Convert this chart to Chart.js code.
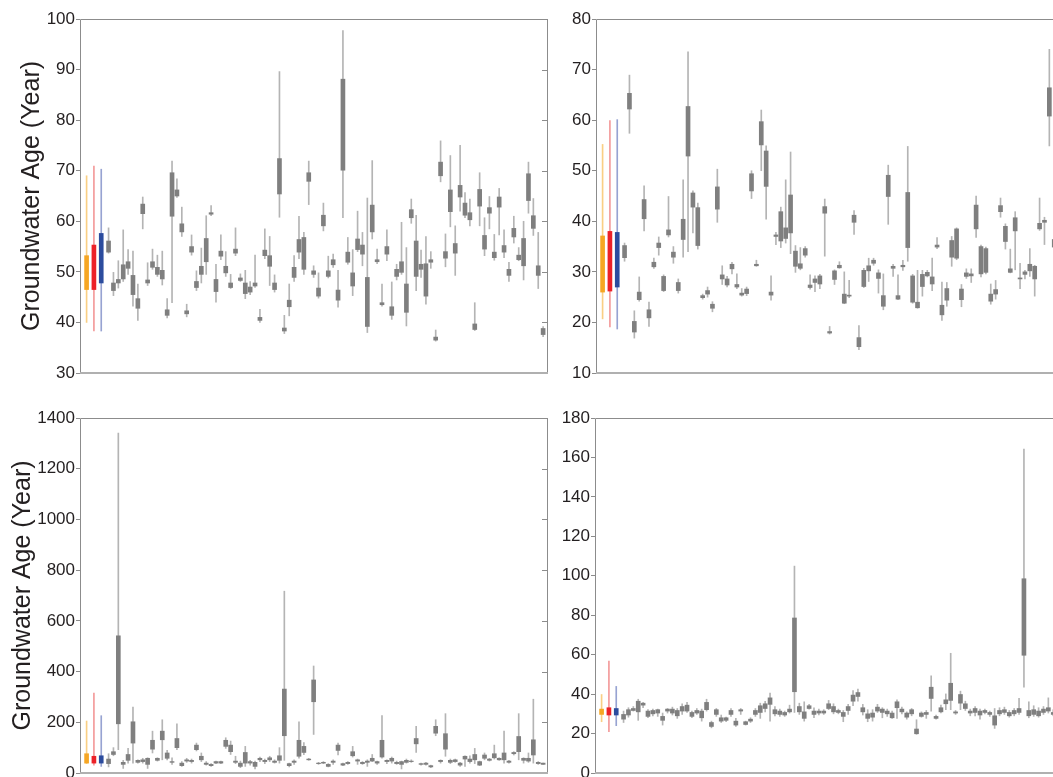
<!DOCTYPE html>
<html>
<head>
<meta charset="utf-8">
<script src="https://cdn.jsdelivr.net/npm/chart.js@4/dist/chart.umd.min.js"></script>
<style>
    body { margin: 0; background: #fff; overflow: hidden; }
    #wrap { position: relative; width: 1053px; height: 777px; overflow: hidden; }
    canvas { position: absolute; }
</style>
</head>
<body>
<div id="wrap">
    <canvas id="ageA" width="560" height="400" style="left:0;top:0"></canvas>
    <canvas id="ageB" width="520" height="400" style="left:556px;top:0"></canvas>
    <canvas id="ageC" width="560" height="410" style="left:0;top:390px"></canvas>
    <canvas id="ageD" width="520" height="410" style="left:556px;top:390px"></canvas>
</div>
<script>
// Tick values for each panel
const ticksA = [30, 40, 50, 60, 70, 80, 90, 100];
const ticksB = [10, 20, 30, 40, 50, 60, 70, 80];
const ticksC = [0, 200, 400, 600, 800, 1000, 1200, 1400];
const ticksD = [0, 20, 40, 60, 80, 100, 120, 140, 160, 180];

// Three reference boxes (orange, red, blue) in each panel: low, q1, q3, high
const refLowA = [40.0, 38.3, 38.3];
const refQ1A = [46.5, 46.5, 47.8];
const refQ3A = [53.2, 55.3, 57.6];
const refHighA = [69.0, 70.9, 70.3];

const refLowB = [20.7, 19.1, 18.7];
const refQ1B = [26.0, 26.2, 27.0];
const refQ3B = [37.1, 38.0, 37.8];
const refHighB = [55.2, 59.9, 60.1];

const refLowC = [37, 31, 26];
const refQ1C = [39, 39, 39];
const refQ3C = [76, 66, 68];
const refHighC = [205, 315, 226];

const refLowD = [26.0, 20.9, 24.0];
const refQ1D = [29.7, 29.4, 29.4];
const refQ3D = [32.4, 33.1, 32.7];
const refHighD = [39.8, 56.7, 43.9];

// Panel A (top left)
const highA = [
    58.7, 49.9, 52.2, 58.3, 54.4, 54.1, 47.6, 64.8, 51.8, 54.5,
    53.3, 54.1, 44.7, 71.9, 68.4, 62.8, 43.6, 57.3, 50.2, 54.7,
    61.1, 63.1, 51.5, 57.3, 54.0, 49.5, 58.7, 49.6, 50.3, 48.1,
    53.3, 42.6, 58.5, 57.0, 49.4, 89.6, 41.4, 47.6, 53.2, 61.0,
    57.8, 71.9, 51.2, 49.8, 63.6, 53.1, 53.5, 50.3, 97.7, 56.8,
    54.4, 62.0, 57.8, 64.6, 72.0, 54.5, 47.6, 58.3, 48.0, 51.5,
    59.8, 54.8, 64.4, 61.2, 54.3, 57.0, 54.0, 38.5, 75.9, 57.5,
    73.0, 59.1, 75.0, 65.7, 64.4, 43.9, 69.6, 60.7, 64.9, 57.4,
    66.5, 58.3, 51.9, 61.0, 54.8, 60.0, 71.7, 64.5, 57.8, 39.2
];
const q3A = [
    56.1, 47.8, 48.5, 51.4, 52.0, 49.3, 44.7, 63.4, 48.4, 52.0,
    50.9, 50.3, 42.5, 69.6, 66.2, 59.5, 42.3, 55.0, 48.1, 51.1,
    56.6, 61.7, 48.5, 54.1, 51.1, 47.8, 54.5, 48.8, 47.8, 47.0,
    47.8, 41.0, 54.3, 53.2, 47.8, 72.4, 38.9, 44.4, 50.9, 56.4,
    56.8, 69.6, 50.2, 46.8, 61.2, 50.2, 52.4, 46.4, 88.1, 53.9,
    49.8, 56.5, 55.3, 48.9, 63.2, 52.4, 43.9, 55.0, 43.1, 50.5,
    52.0, 47.6, 62.3, 56.1, 51.5, 51.6, 52.4, 37.1, 71.7, 54.0,
    66.2, 55.6, 67.1, 63.6, 61.7, 39.7, 66.3, 57.2, 62.7, 53.9,
    64.8, 55.2, 50.5, 58.6, 53.3, 56.6, 69.4, 61.1, 51.2, 38.8
];
const q1A = [
    53.9, 46.3, 47.8, 48.6, 50.7, 45.5, 42.8, 61.5, 47.8, 50.9,
    49.5, 48.6, 41.4, 61.0, 65.0, 57.9, 41.7, 53.9, 46.9, 49.5,
    52.0, 61.4, 46.1, 53.1, 49.8, 46.9, 53.7, 48.3, 45.7, 46.0,
    47.2, 40.4, 53.2, 51.1, 46.5, 65.4, 38.3, 43.1, 48.9, 53.9,
    50.5, 67.9, 49.5, 45.2, 59.1, 49.1, 51.4, 44.4, 70.1, 51.9,
    47.2, 54.4, 53.5, 39.2, 57.9, 52.0, 43.5, 53.5, 41.4, 49.1,
    49.9, 42.0, 60.7, 49.1, 50.5, 45.2, 51.9, 36.5, 69.0, 52.7,
    61.9, 53.7, 64.8, 61.2, 60.3, 38.6, 63.0, 54.5, 61.6, 52.8,
    62.8, 53.9, 49.3, 56.9, 52.4, 51.2, 64.1, 58.6, 49.3, 37.6
];
const lowA = [
    53.7, 45.3, 46.8, 48.1, 49.5, 43.2, 40.4, 58.5, 47.3, 50.5,
    49.1, 47.4, 40.9, 43.9, 64.7, 57.0, 41.1, 53.3, 46.3, 47.8,
    49.5, 61.1, 44.0, 52.4, 49.1, 46.7, 53.2, 48.1, 44.7, 45.5,
    46.9, 40.0, 52.6, 47.3, 46.0, 60.8, 37.8, 41.3, 48.1, 52.6,
    49.5, 63.3, 48.9, 44.8, 58.1, 48.8, 50.9, 43.0, 60.7, 51.5,
    45.3, 54.0, 51.2, 38.0, 56.5, 51.6, 43.2, 52.2, 40.6, 48.4,
    49.5, 39.3, 59.6, 46.3, 48.9, 43.6, 50.7, 36.3, 67.8, 51.0,
    58.9, 49.3, 62.0, 60.7, 59.1, 38.4, 59.1, 53.2, 58.5, 52.3,
    57.3, 52.8, 48.1, 55.7, 52.2, 48.4, 61.6, 57.2, 46.7, 37.2
];

// Panel B (top right)
const highB = [
    35.7, 68.9, 22.3, 29.0, 47.0, 24.0, 32.7, 36.9, 29.4, 44.9,
    35.0, 28.6, 48.2, 73.5, 46.0, 43.6, 25.6, 27.0, 24.1, 50.3,
    31.2, 29.1, 31.9, 29.6, 26.7, 27.0, 50.0, 32.3, 62.0, 54.9,
    29.2, 37.8, 42.8, 48.2, 53.7, 35.2, 34.8, 35.0, 29.4, 29.2,
    29.5, 44.4, 19.2, 30.4, 32.0, 30.0, 28.3, 42.1, 19.4, 30.7,
    32.7, 32.7, 30.4, 29.6, 51.1, 31.5, 29.4, 32.3, 54.8, 29.5,
    30.3, 30.3, 30.3, 32.7, 36.8, 28.0, 27.9, 37.0, 38.7, 27.5,
    30.6, 30.6, 45.0, 35.3, 34.9, 27.6, 28.3, 44.6, 39.5, 34.5,
    41.9, 31.7, 30.3, 34.6, 31.3, 44.6, 40.8, 74.0, 37.6
];
const q3B = [
    35.2, 65.3, 20.2, 26.0, 44.3, 22.5, 31.9, 35.7, 29.1, 38.3,
    33.9, 27.9, 40.4, 62.7, 45.6, 42.7, 25.3, 26.3, 23.6, 46.8,
    29.4, 28.6, 31.5, 27.5, 25.8, 26.6, 49.4, 31.5, 59.7, 53.9,
    26.0, 37.3, 41.9, 38.7, 45.2, 34.1, 31.6, 34.6, 27.4, 28.6,
    29.2, 42.9, 18.2, 30.2, 31.3, 25.6, 25.4, 41.2, 17.0, 30.3,
    31.2, 32.3, 29.8, 25.3, 49.1, 31.1, 25.3, 31.3, 45.7, 29.2,
    24.0, 29.5, 29.9, 29.0, 35.3, 23.4, 26.7, 36.2, 38.5, 26.6,
    29.8, 29.6, 43.2, 35.0, 34.6, 25.6, 26.5, 43.1, 39.0, 30.6,
    40.7, 28.8, 30.0, 31.5, 31.1, 39.6, 40.2, 66.4, 36.4
];
const q1B = [
    32.8, 62.2, 18.1, 24.5, 40.5, 20.9, 31.0, 34.8, 26.3, 37.3,
    32.9, 26.3, 36.4, 52.9, 42.8, 35.2, 24.9, 25.6, 22.8, 42.4,
    28.6, 27.4, 30.6, 27.0, 25.4, 25.7, 46.0, 31.2, 55.1, 46.9,
    25.4, 37.0, 36.1, 36.6, 37.7, 31.1, 30.7, 33.3, 26.9, 27.9,
    27.6, 41.6, 17.9, 28.5, 30.8, 23.8, 25.2, 39.8, 15.2, 27.1,
    30.2, 31.7, 28.7, 23.2, 44.9, 30.7, 24.6, 31.0, 34.8, 24.0,
    22.9, 27.1, 29.2, 27.6, 34.9, 21.5, 24.4, 32.9, 32.7, 24.5,
    29.1, 29.2, 38.5, 29.6, 29.9, 24.2, 25.6, 41.9, 36.0, 29.9,
    38.1, 28.6, 29.5, 30.2, 28.6, 38.5, 39.8, 60.8, 34.9
];
const lowB = [
    32.1, 57.4, 16.9, 24.2, 38.1, 19.2, 30.7, 33.3, 26.1, 36.9,
    31.7, 25.8, 32.9, 34.0, 37.7, 34.5, 24.6, 25.0, 22.1, 39.8,
    27.5, 27.0, 29.6, 26.7, 25.2, 25.3, 44.5, 31.1, 50.0, 40.4,
    24.4, 35.4, 34.8, 35.7, 33.6, 29.9, 30.4, 32.9, 26.6, 26.1,
    26.7, 33.1, 17.7, 27.5, 30.7, 23.7, 24.9, 37.4, 14.6, 26.9,
    28.1, 31.3, 25.8, 22.5, 39.4, 29.1, 24.5, 30.3, 32.1, 23.8,
    22.8, 25.2, 29.0, 26.3, 34.6, 20.4, 23.2, 31.1, 32.4, 23.1,
    28.7, 27.9, 36.8, 29.0, 29.6, 23.6, 24.6, 40.8, 34.5, 29.8,
    30.4, 26.7, 28.6, 29.1, 25.2, 38.2, 35.4, 54.9, 34.0
];

// Panel C (bottom left)
const highC = [
    76, 100, 1341, 50, 97, 260, 52, 58, 60, 165,
    60, 210, 89, 60, 194, 45, 58, 55, 118, 79,
    45, 37, 47, 47, 139, 126, 66, 47, 105, 50,
    47, 63, 55, 66, 52, 100, 717, 39, 52, 202,
    120, 58, 422, 42, 45, 37, 52, 118, 39, 45,
    105, 55, 45, 52, 73, 47, 226, 52, 63, 47,
    47, 55, 52, 184, 39, 42, 31, 210, 52, 234,
    55, 55, 42, 68, 68, 97, 47, 79, 58, 110,
    60, 165, 50, 84, 234, 60, 79, 291, 45, 39
];
const q3C = [
    55, 84, 541, 42, 73, 202, 50, 52, 58, 129,
    58, 165, 79, 45, 136, 39, 52, 50, 110, 66,
    39, 34, 45, 45, 129, 110, 47, 39, 81, 45,
    42, 58, 50, 60, 47, 68, 331, 37, 47, 129,
    105, 55, 367, 39, 42, 34, 47, 110, 37, 42,
    84, 52, 42, 47, 58, 45, 129, 50, 58, 42,
    45, 50, 47, 136, 37, 39, 29, 184, 50, 155,
    50, 52, 39, 66, 55, 73, 45, 71, 55, 76,
    58, 79, 47, 81, 144, 58, 58, 131, 42, 39
];
const q1C = [
    37, 73, 194, 34, 50, 118, 42, 45, 34, 94,
    50, 131, 58, 42, 100, 29, 47, 45, 92, 52,
    34, 29, 39, 39, 105, 84, 42, 26, 39, 39,
    26, 52, 45, 52, 42, 50, 147, 29, 42, 66,
    81, 52, 281, 37, 39, 26, 42, 89, 31, 37,
    68, 47, 37, 42, 47, 39, 63, 45, 47, 37,
    34, 42, 45, 115, 34, 34, 24, 157, 45, 94,
    42, 45, 31, 55, 45, 52, 31, 58, 50, 60,
    52, 52, 42, 76, 84, 50, 47, 71, 37, 34
];
const lowC = [
    24, 68, 92, 18, 39, 39, 39, 39, 18, 79,
    47, 52, 52, 34, 92, 26, 42, 39, 87, 45,
    31, 26, 37, 37, 97, 73, 37, 21, 26, 31,
    16, 45, 37, 45, 39, 39, 50, 24, 34, 58,
    72, 50, 152, 34, 37, 24, 34, 71, 29, 34,
    63, 34, 34, 26, 45, 34, 58, 37, 39, 34,
    16, 39, 42, 81, 31, 31, 21, 147, 39, 66,
    37, 42, 26, 26, 39, 37, 29, 52, 47, 55,
    50, 39, 39, 71, 52, 39, 42, 39, 34, 34
];

// Panel D (bottom right)
const highD = [
    31.4, 33.1, 33.7, 37.4, 35.8, 32.1, 32.4, 32.4, 30.4, 32.7,
    33.4, 32.7, 35.1, 35.8, 31.4, 32.7, 32.4, 37.4, 26.3, 32.7,
    29.4, 28.3, 32.7, 27.7, 32.7, 26.3, 28.0, 32.7, 35.4, 36.4,
    40.5, 33.7, 32.4, 31.4, 34.4, 104.9, 35.4, 36.1, 34.8, 33.1,
    32.4, 32.1, 36.8, 35.1, 32.4, 31.7, 34.8, 41.8, 42.5, 34.8,
    32.1, 32.1, 34.8, 33.1, 32.4, 31.4, 37.1, 33.4, 31.0, 32.7,
    27.0, 31.0, 31.7, 49.3, 29.4, 34.4, 40.1, 60.7, 31.7, 41.5,
    36.4, 32.4, 33.7, 32.4, 32.4, 31.4, 32.7, 33.1, 33.4, 31.7,
    32.7, 37.8, 164.3, 36.1, 34.1, 33.1, 33.7, 38.1, 32.1
];
const q3D = [
    29.7, 32.1, 32.7, 36.4, 35.4, 31.4, 31.7, 32.1, 28.7, 32.4,
    32.4, 31.7, 33.7, 34.4, 30.7, 31.7, 31.4, 35.8, 25.6, 32.1,
    28.0, 28.0, 31.7, 26.3, 32.1, 26.0, 27.3, 31.7, 34.1, 35.1,
    38.1, 32.1, 31.4, 30.7, 32.4, 78.6, 33.7, 31.0, 34.1, 31.4,
    31.4, 31.4, 35.1, 33.7, 31.7, 30.7, 33.7, 39.5, 40.8, 33.1,
    30.0, 30.4, 33.4, 32.4, 31.4, 30.4, 36.1, 32.4, 30.4, 32.1,
    22.3, 30.4, 30.7, 43.5, 28.7, 33.1, 37.1, 45.5, 31.0, 39.8,
    35.1, 31.4, 32.7, 31.4, 31.7, 30.7, 29.0, 31.7, 32.1, 30.7,
    31.7, 32.7, 98.5, 31.7, 32.1, 31.4, 32.4, 33.1, 30.7
];
const q1D = [
    27.3, 29.4, 31.7, 31.0, 34.4, 28.7, 30.0, 30.4, 26.7, 31.4,
    30.4, 29.0, 31.4, 31.4, 28.7, 30.4, 28.0, 32.1, 23.6, 29.7,
    26.3, 26.7, 29.7, 24.3, 31.4, 24.6, 26.3, 29.7, 30.7, 32.7,
    34.8, 30.0, 29.7, 29.4, 31.0, 41.2, 31.0, 27.7, 32.7, 29.7,
    30.4, 30.4, 32.7, 31.0, 30.7, 28.7, 31.7, 36.4, 38.8, 31.0,
    27.7, 28.3, 31.4, 30.7, 30.0, 28.0, 33.1, 31.0, 28.3, 30.0,
    19.9, 28.7, 29.7, 37.8, 27.7, 31.0, 35.1, 36.8, 30.4, 35.4,
    32.7, 30.4, 30.7, 29.4, 30.7, 29.7, 24.3, 30.0, 30.7, 29.0,
    30.0, 30.7, 59.7, 29.0, 29.7, 29.0, 30.7, 31.4, 29.7
];
const lowD = [
    25.6, 28.3, 31.4, 26.7, 33.1, 28.0, 29.0, 28.7, 24.3, 30.4,
    29.4, 27.7, 29.7, 30.7, 28.0, 29.7, 26.3, 31.4, 22.9, 28.7,
    25.6, 26.0, 28.7, 23.6, 29.7, 24.3, 25.6, 28.7, 27.7, 31.0,
    26.3, 29.0, 28.7, 28.7, 30.4, 30.7, 29.7, 26.3, 32.4, 28.0,
    29.4, 29.7, 32.1, 30.0, 30.0, 26.0, 29.7, 34.1, 36.4, 29.4,
    26.0, 26.3, 30.7, 28.0, 28.7, 27.7, 27.7, 30.0, 27.3, 29.0,
    19.6, 28.3, 27.7, 31.4, 27.3, 30.4, 32.1, 32.1, 29.7, 32.1,
    31.7, 29.0, 29.0, 27.3, 30.0, 28.7, 22.6, 29.0, 29.7, 28.3,
    29.0, 29.7, 43.5, 28.0, 28.7, 28.3, 29.7, 30.4, 29.0
];

const FONT = '"Liberation Sans", Arial, sans-serif';
const TEXT_COLOR = '#231f20';
const FRAME_COLOR = '#8c8c8c';
const GRAY_BOX = '#7f7f7f';
const GRAY_WHISKER = '#b4b4b4';
const REF_BOX = ['#f6a623', '#ec2128', '#2c4c9e'];
const REF_WHISKER = ['#f9cf84', '#f39a9a', '#97a3d2'];
// slot of the reference boxes, left of the first site (slot 1)
const REF_SLOTS = [-3.5, -2, -0.5];

// Frame round the plot area, with short inward ticks on the right edge
const framePlugin = {
    id: 'frame',
    beforeDatasetsDraw(chart) {
        const { ctx, chartArea: a, scales: { y } } = chart;
        ctx.save();
        ctx.strokeStyle = FRAME_COLOR;
        ctx.lineWidth = 1;
        ctx.beginPath();
        ctx.moveTo(a.left + 0.5, a.bottom);
        ctx.lineTo(a.left + 0.5, a.top + 0.5);
        ctx.lineTo(a.right - 0.5, a.top + 0.5);
        ctx.lineTo(a.right - 0.5, a.bottom);
        y.ticks.forEach(t => {
            const py = Math.round(y.getPixelForValue(t.value)) + 0.5;
            ctx.moveTo(a.right - 6, py);
            ctx.lineTo(a.right, py);
        });
        ctx.stroke();
        ctx.strokeStyle = '#b0b0b0';
        ctx.lineWidth = 2;
        ctx.beginPath();
        ctx.moveTo(a.left, a.bottom);
        ctx.lineTo(a.right, a.bottom);
        ctx.stroke();
        ctx.restore();
    }
};

const Panels = {
    list: [
        { id: 'ageA', ticks: ticksA, low: lowA, q1: q1A, q3: q3A, high: highA,
          ref: [refLowA, refQ1A, refQ3A, refHighA], axisWidth: 80, titlePad: 17,
          padding: { top: 19, right: 12, bottom: 27, left: 0 } },
        { id: 'ageB', ticks: ticksB, low: lowB, q1: q1B, q3: q3B, high: highB,
          ref: [refLowB, refQ1B, refQ3B, refHighB], axisWidth: 40, titlePad: null,
          padding: { top: 19, right: 12, bottom: 27, left: 0 } },
        { id: 'ageC', ticks: ticksC, low: lowC, q1: q1C, q3: q3C, high: highC,
          ref: [refLowC, refQ1C, refQ3C, refHighC], axisWidth: 80, titlePad: 8,
          padding: { top: 28, right: 12, bottom: 27, left: 0 } },
        { id: 'ageD', ticks: ticksD, low: lowD, q1: q1D, q3: q3D, high: highD,
          ref: [refLowD, refQ1D, refQ3D, refHighD], axisWidth: 39, titlePad: null,
          padding: { top: 28, right: 13, bottom: 27, left: 0 } }
    ],

    init() {
        this.list.forEach(p => this.build(p));
    },

    bars(lo, hi, slots) {
        return lo.map((v, i) => ({ x: slots ? slots[i] : i + 1, y: [v, hi[i]] }));
    },

    build(p) {
        const ctx = document.getElementById(p.id).getContext('2d');
        const [rLow, rQ1, rQ3, rHigh] = p.ref;

        new Chart(ctx, {
            type: 'bar',
            data: {
                datasets: [
                    { data: this.bars(rQ1, rQ3, REF_SLOTS), backgroundColor: REF_BOX,
                      barThickness: 4, grouped: false, borderWidth: 0 },
                    { data: this.bars(p.q1, p.q3), backgroundColor: GRAY_BOX,
                      barThickness: 4, grouped: false, borderWidth: 0 },
                    { data: this.bars(rLow, rHigh, REF_SLOTS), backgroundColor: REF_WHISKER,
                      barThickness: 1, grouped: false, borderWidth: 0 },
                    { data: this.bars(p.low, p.high), backgroundColor: GRAY_WHISKER,
                      barThickness: 1, grouped: false, borderWidth: 0 }
                ]
            },
            options: {
                responsive: false,
                animation: false,
                devicePixelRatio: 1,
                layout: { padding: p.padding },
                plugins: {
                    legend: { display: false },
                    tooltip: { enabled: false }
                },
                scales: {
                    x: {
                        type: 'linear',
                        min: -4.85,
                        max: 91,
                        offset: false,
                        display: false
                    },
                    y: {
                        min: p.ticks[0],
                        max: p.ticks[p.ticks.length - 1],
                        afterFit: s => { s.width = p.axisWidth; },
                        afterBuildTicks: s => { s.ticks = p.ticks.map(v => ({ value: v })); },
                        border: { display: false },
                        grid: {
                            drawOnChartArea: false,
                            drawTicks: true,
                            tickLength: 4,
                            color: FRAME_COLOR
                        },
                        ticks: {
                            padding: 1,
                            color: TEXT_COLOR,
                            font: { family: FONT, size: 17 },
                            callback: v => String(v)
                        },
                        title: {
                            display: p.titlePad !== null,
                            text: 'Groundwater Age (Year)',
                            color: TEXT_COLOR,
                            font: { family: FONT, size: 25 },
                            padding: { top: p.titlePad || 0, bottom: 0 }
                        }
                    }
                }
            },
            plugins: [framePlugin]
        });
    }
};

Panels.init();
</script>
</body>
</html>
